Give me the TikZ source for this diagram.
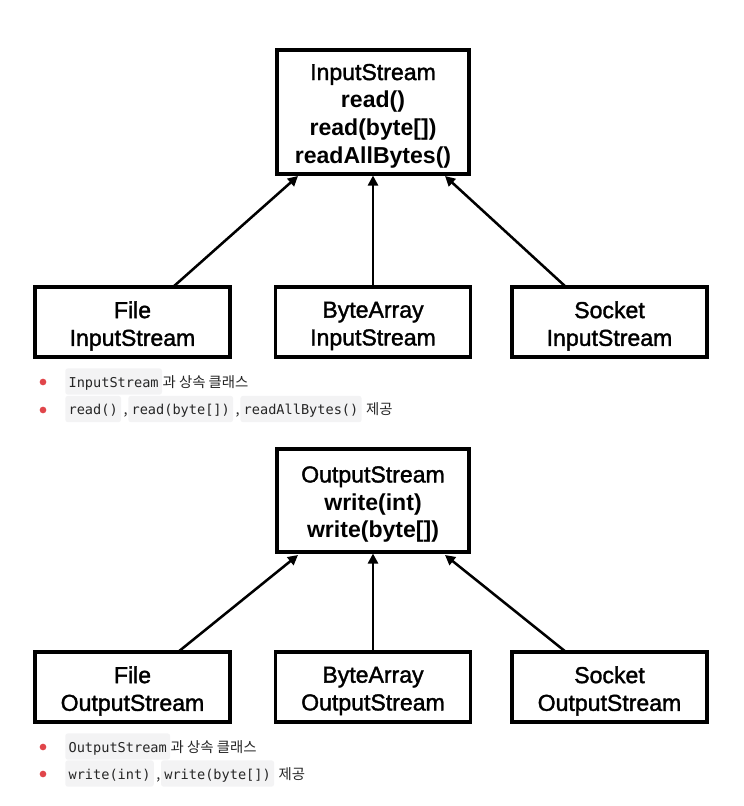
\documentclass[tikz,border=0pt]{standalone}
\usepackage{fontspec}
\setmainfont{Liberation Sans}
\newfontfamily\boxfont{Liberation Sans}[FakeBold=1.6]
\newfontfamily\codefont{DejaVu Sans Mono}
\newfontfamily\krfont{Noto Sans CJK KR}
\usetikzlibrary{arrows.meta}
\definecolor{bulletred}{HTML}{E0454A}
\definecolor{codebg}{HTML}{F3F3F4}
\definecolor{bodytext}{HTML}{262626}
\newcommand\meth[1]{{\normalfont\bfseries #1}}
\begin{document}
\begin{tikzpicture}[x=0.75pt,y=-0.75pt,
  cls/.style={draw=black, line width=2.3pt, fill=white, inner sep=0pt},
  parent/.style={cls, minimum width=192*0.75pt},
  child/.style={cls, minimum width=195*0.75pt, minimum height=70*0.75pt},
  caption/.style={align=center, inner sep=0pt, yshift=-3pt,
    font=\boxfont\fontsize{17.3}{20.8}\selectfont},
  inherit/.style={line width=1.9pt, -{Triangle[width=7.5pt,length=7.5pt]}},
  code/.style={fill=codebg, rounded corners=2pt, inner xsep=2.5pt, inner ysep=0pt,
    font=\codefont\fontsize{10.2}{12}\selectfont, text=bodytext, anchor=base west,
    text depth=5.8pt, text height=14pt},
  plain/.style={font=\krfont\fontsize{10.8}{12}\selectfont, text=bodytext, anchor=base west, inner sep=0pt},
  dot/.style={circle, fill=bulletred, inner sep=0pt, minimum size=5pt}
]
\useasboundingbox (0,0) rectangle (743,806);

% ---------- input stream hierarchy ----------
\node[parent, minimum height=124*0.75pt] (in) at (373,112) {};
\node[caption] (in-t) at (in.center)
  {InputStream\\ \meth{read()}\\ \meth{read(byte[])}\\ \meth{readAllBytes()}};
\node[child] (fin) at (132.5,322) {};
\node[caption] (fin-t) at (fin.center) {File\\InputStream};
\node[child] (bin) at (373,322) {};
\node[caption] (bin-t) at (bin.center) {ByteArray\\InputStream};
\node[child] (sin) at (609.5,322) {};
\node[caption] (sin-t) at (sin.center) {Socket\\InputStream};

\draw[inherit] (173,287) -- (298,176);
\draw[inherit] (bin.north) -- (in.south);
\draw[inherit] (566,287) -- (445,176);

% notes
\node[dot] (d1) at (43,382) {};
\node[code] (c1) at (65,387) {InputStream};
\node[plain] (t1) at (c1.base east) {과 상속 클래스};

\node[dot] (d2) at (43,410) {};
\node[code] (c2) at (65,414.5) {read()};
\node[plain] (k1) at ([xshift=1.5pt]c2.base east) {,};
\node[code] (c3) at ([xshift=5pt]c2.base east) {read(byte[])};
\node[plain] (k2) at ([xshift=1.5pt]c3.base east) {,};
\node[code] (c4) at ([xshift=5pt]c3.base east) {readAllBytes()};
\node[plain] (t2) at ([xshift=3pt]c4.base east) {제공};

% ---------- output stream hierarchy ----------
\node[parent, minimum height=103*0.75pt] (out) at (373,500.5) {};
\node[caption] (out-t) at (out.center)
  {OutputStream\\ \meth{write(int)}\\ \meth{write(byte[])}};
\node[child] (fout) at (132.5,687) {};
\node[caption] (fout-t) at (fout.center) {File\\OutputStream};
\node[child] (bout) at (373,687) {};
\node[caption] (bout-t) at (bout.center) {ByteArray\\OutputStream};
\node[child] (sout) at (609.5,687) {};
\node[caption] (sout-t) at (sout.center) {Socket\\OutputStream};

\draw[inherit] (178,652) -- (298,555);
\draw[inherit] (bout.north) -- (out.south);
\draw[inherit] (566,652) -- (445,555);

% notes
\node[dot] (d3) at (43,747) {};
\node[code] (c5) at (65,752) {OutputStream};
\node[plain] (t3) at (c5.base east) {과 상속 클래스};

\node[dot] (d4) at (43,774) {};
\node[code] (c6) at (65,779) {write(int)};
\node[plain] (k3) at ([xshift=1.5pt]c6.base east) {,};
\node[code] (c7) at ([xshift=5pt]c6.base east) {write(byte[])};
\node[plain] (t4) at ([xshift=3pt]c7.base east) {제공};
\end{tikzpicture}
\end{document}
